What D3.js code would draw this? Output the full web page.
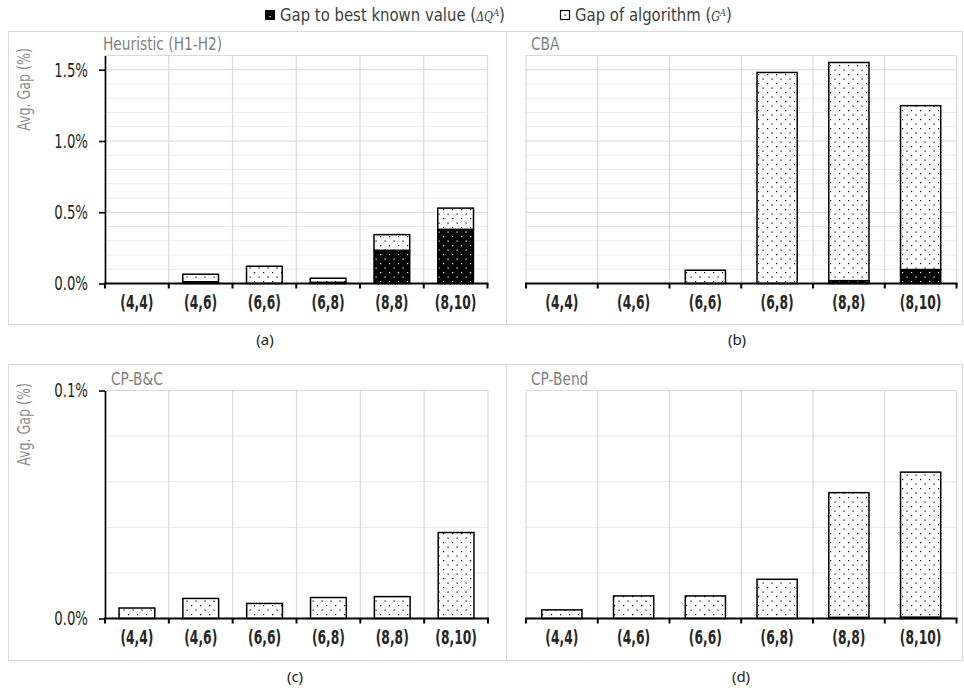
<!DOCTYPE html>
<html><head><meta charset="utf-8">
<script src="https://cdn.jsdelivr.net/npm/d3@7/dist/d3.min.js"></script>
<style>
html,body{margin:0;padding:0;background:#fff;}
svg{display:block;}
</style></head>
<body><svg id="c" width="964" height="690"></svg>
<script>
// ---------- data ----------
const categories = ["(4,4)","(4,6)","(6,6)","(6,8)","(8,8)","(8,10)"];
const seriesNames = ["Gap to best known value", "Gap of algorithm"];
// values in %, stacked: bottom segment = gap to best known value, top segment = rest of gap of algorithm
const heurDelta = [0, 0.012, 0, 0.008, 0.233, 0.380];
const heurRest  = [0, 0.053, 0.121, 0.029, 0.110, 0.149];
const cbaDelta  = [0, 0, 0, 0, 0.020, 0.098];
const cbaRest   = [0, 0, 0.093, 1.481, 1.531, 1.150];
const bcDelta   = [0, 0, 0, 0, 0, 0];
const bcRest    = [0.0046, 0.0088, 0.0066, 0.0092, 0.0096, 0.0377];
const bendDelta = [0, 0, 0, 0, 0.0005, 0.0006];
const bendRest  = [0.0038, 0.0099, 0.0099, 0.0172, 0.0547, 0.0636];
const topTickLabels = [0, 0.5, 1.0, 1.5];
const bottomTickLabels = [0, 0.1];
const panelTitles = ["Heuristic (H1-H2)", "CBA", "CP-B&C", "CP-Bend"];
const captions = ["(a)", "(b)", "(c)", "(d)"];

// ---------- layout ----------
const svg = d3.select("#c");
const FONT = "'DejaVu Sans Condensed','DejaVu Sans','Roboto',sans-serif";
const defs = svg.append("defs");
function pattern(id, bg, fg){
  const p = defs.append("pattern").attr("id", id).attr("patternUnits","userSpaceOnUse")
    .attr("width", 9).attr("height", 9);
  p.append("rect").attr("width",9).attr("height",9).attr("fill",bg);
  p.append("rect").attr("x",2).attr("y",2).attr("width",1.2).attr("height",1.2).attr("fill",fg);
  p.append("rect").attr("x",6.5).attr("y",6.5).attr("width",1.2).attr("height",1.2).attr("fill",fg);
}
pattern("dotW", "#fff", "#000");
pattern("dotB", "#000", "#fff");

// panel boxes
const boxes = [
  {x:8.5, y:31.5, w:498, h:293},
  {x:506.5, y:31.5, w:456, h:293},
  {x:8.5, y:364.5, w:498, h:296},
  {x:506.5, y:364.5, w:456, h:296}
];
boxes.forEach(b => svg.append("rect").attr("x",b.x).attr("y",b.y).attr("width",b.w).attr("height",b.h)
  .attr("fill","none").attr("stroke","#d9d9d9").attr("stroke-width",1));

const panels = [
  {x0:105, x1:487.5, y0:283.5, y1:55.5, max:1.6, minor:0.1, major:topTickLabels, yaxis:true,
   delta:heurDelta, rest:heurRest, title:panelTitles[0], tx:103, ty:50, cap:captions[0], cx:265, cy:345},
  {x0:526, x1:956.5, y0:283.5, y1:55.5, max:1.6, minor:0.1, major:topTickLabels, yaxis:false,
   delta:cbaDelta, rest:cbaRest, title:panelTitles[1], tx:531, ty:50, cap:captions[1], cx:737, cy:345},
  {x0:105, x1:488, y0:618.5, y1:390.5, max:0.1, minor:0.02, major:bottomTickLabels, yaxis:true,
   delta:bcDelta, rest:bcRest, title:panelTitles[2], tx:111, ty:385, cap:captions[2], cx:295, cy:682},
  {x0:526, x1:956.5, y0:618.5, y1:390.5, max:0.1, minor:0.02, major:bottomTickLabels, yaxis:false,
   delta:bendDelta, rest:bendRest, title:panelTitles[3], tx:531, ty:385, cap:captions[3], cx:741, cy:682}
];

panels.forEach(P => {
  const g = svg.append("g");
  const x = d3.scaleBand().domain(categories).range([P.x0, P.x1]).paddingInner(0.44).paddingOuter(0.22);
  const y = d3.scaleLinear().domain([0, P.max]).range([P.y0, P.y1]);
  const step = x.step();
  const bounds = categories.map(c => x(c) - (step - x.bandwidth())/2).concat([P.x1]);

  // horizontal grid
  const nMinor = Math.round(P.max / P.minor);
  const gridVals = d3.range(0, nMinor + 1).map(i => i * P.minor);
  g.selectAll(".hg").data(gridVals.filter(v => v > 0)).join("line")
    .attr("x1", P.x0).attr("x2", P.x1).attr("y1", d => y(d)).attr("y2", d => y(d))
    .attr("stroke", d => (P.major.some(m => Math.abs(m - d) < 1e-9) || Math.abs(d-P.max)<1e-9) ? "#d9d9d9" : "#ebebeb")
    .attr("stroke-width", 1.2);
  // vertical grid
  g.selectAll(".vg").data(bounds).join("line")
    .attr("x1", d => d).attr("x2", d => d).attr("y1", P.y1).attr("y2", P.y0)
    .attr("stroke", "#d9d9d9").attr("stroke-width", 1.2);

  // stacked bars
  const rows = categories.map((c, i) => ({cat: c, delta: P.delta[i], rest: P.rest[i]}));
  const stack = d3.stack().keys(["delta", "rest"])(rows);
  const fills = {delta: "url(#dotB)", rest: "url(#dotW)"};
  stack.forEach(layer => {
    g.selectAll(null).data(layer.filter(d => d[1] - d[0] > 0)).join("rect")
      .attr("x", d => x(d.data.cat)).attr("width", x.bandwidth())
      .attr("y", d => y(d[1])).attr("height", d => y(d[0]) - y(d[1]))
      .attr("fill", fills[layer.key]).attr("stroke", "#000").attr("stroke-width", 1.5);
  });

  // x axis
  g.append("line").attr("x1", P.x0 - 1).attr("x2", P.x1 + 1).attr("y1", P.y0).attr("y2", P.y0)
    .attr("stroke", "#000").attr("stroke-width", 2.2);
  g.selectAll(".xt").data(bounds).join("line")
    .attr("x1", d => d).attr("x2", d => d).attr("y1", P.y0).attr("y2", P.y0 + 5)
    .attr("stroke", "#000").attr("stroke-width", 2);
  const xa = g.append("g").attr("transform", `translate(0,${P.y0})`)
    .call(d3.axisBottom(x).tickSize(0).tickPadding(12));
  xa.select(".domain").remove();
  xa.selectAll("text").attr("font-family", FONT).attr("font-size", 19).attr("font-weight", "bold")
    .attr("fill", "#262626").attr("transform", "scale(0.72,1)");

  // y axis
  if (P.yaxis) {
    const ya = g.append("g").attr("transform", `translate(${P.x0},0)`)
      .call(d3.axisLeft(y).tickValues(P.major).tickSize(6).tickSizeOuter(0).tickPadding(9)
        .tickFormat(d => d.toFixed(1) + "%"));
    ya.select(".domain").attr("stroke", "#000").attr("stroke-width", 1.6);
    ya.selectAll(".tick line").attr("stroke", "#000").attr("stroke-width", 1.6);
    ya.selectAll("text").attr("font-family", FONT).attr("font-size", 20).attr("fill", "#262626")
      .attr("x", -17 / 0.74).attr("transform", "scale(0.74,1)");
    svg.append("text").attr("transform", `translate(30,${(P.y0 + P.y1) / 2 - 80}) rotate(-90) scale(0.78,1)`)
      .attr("text-anchor", "middle").attr("font-family", FONT).attr("font-size", 18)
      .attr("fill", "#8c8c8c").text("Avg. Gap (%)");
  }

  // title
  svg.append("text").attr("transform", `translate(${P.tx},${P.ty}) scale(0.9,1)`).attr("font-family", FONT).attr("font-size", 17)
    .attr("fill", "#7f7f7f").text(P.title);
  // caption
  svg.append("text").attr("x", P.cx).attr("y", P.cy).attr("text-anchor", "middle")
    .attr("font-family", "'Noto Sans','Open Sans',sans-serif").attr("font-size", 15).attr("fill", "#222")
    .text(P.cap);
});

// legend
const lg = svg.append("g");
lg.append("rect").attr("x", 265.5).attr("y", 10.5).attr("width", 9).attr("height", 9).attr("fill", "#000").attr("stroke","#000");
lg.append("rect").attr("x", 269.5).attr("y", 16).attr("width", 1.3).attr("height", 1.3).attr("fill", "#fff");
const t1 = lg.append("text").attr("transform", "translate(280,21) scale(0.92,1)").attr("font-family", FONT).attr("font-size", 18).attr("fill", "#404040");
t1.append("tspan").text(seriesNames[0] + " (");
t1.append("tspan").attr("font-family","'DejaVu Serif',serif").attr("font-style","italic").attr("font-size",12).text("ΔQ");
t1.append("tspan").attr("font-family","'DejaVu Serif',serif").attr("font-style","italic").attr("font-size",9).attr("dy",-5).text("A");
t1.append("tspan").attr("dy",5).text(")");
lg.append("rect").attr("x", 560.5).attr("y", 10.5).attr("width", 9).attr("height", 9).attr("fill", "#fff").attr("stroke","#000").attr("stroke-width",1.2);
lg.append("rect").attr("x", 564.5).attr("y", 14.5).attr("width", 1.3).attr("height", 1.3).attr("fill", "#000");
const t2 = lg.append("text").attr("transform", "translate(575,21) scale(0.92,1)").attr("font-family", FONT).attr("font-size", 18).attr("fill", "#404040");
t2.append("tspan").text(seriesNames[1] + " (");
t2.append("tspan").attr("font-family","'DejaVu Serif',serif").attr("font-style","italic").attr("font-size",12).text("G");
t2.append("tspan").attr("font-family","'DejaVu Serif',serif").attr("font-style","italic").attr("font-size",9).attr("dy",-5).text("A");
t2.append("tspan").attr("dy",5).text(")");
</script></body></html>
